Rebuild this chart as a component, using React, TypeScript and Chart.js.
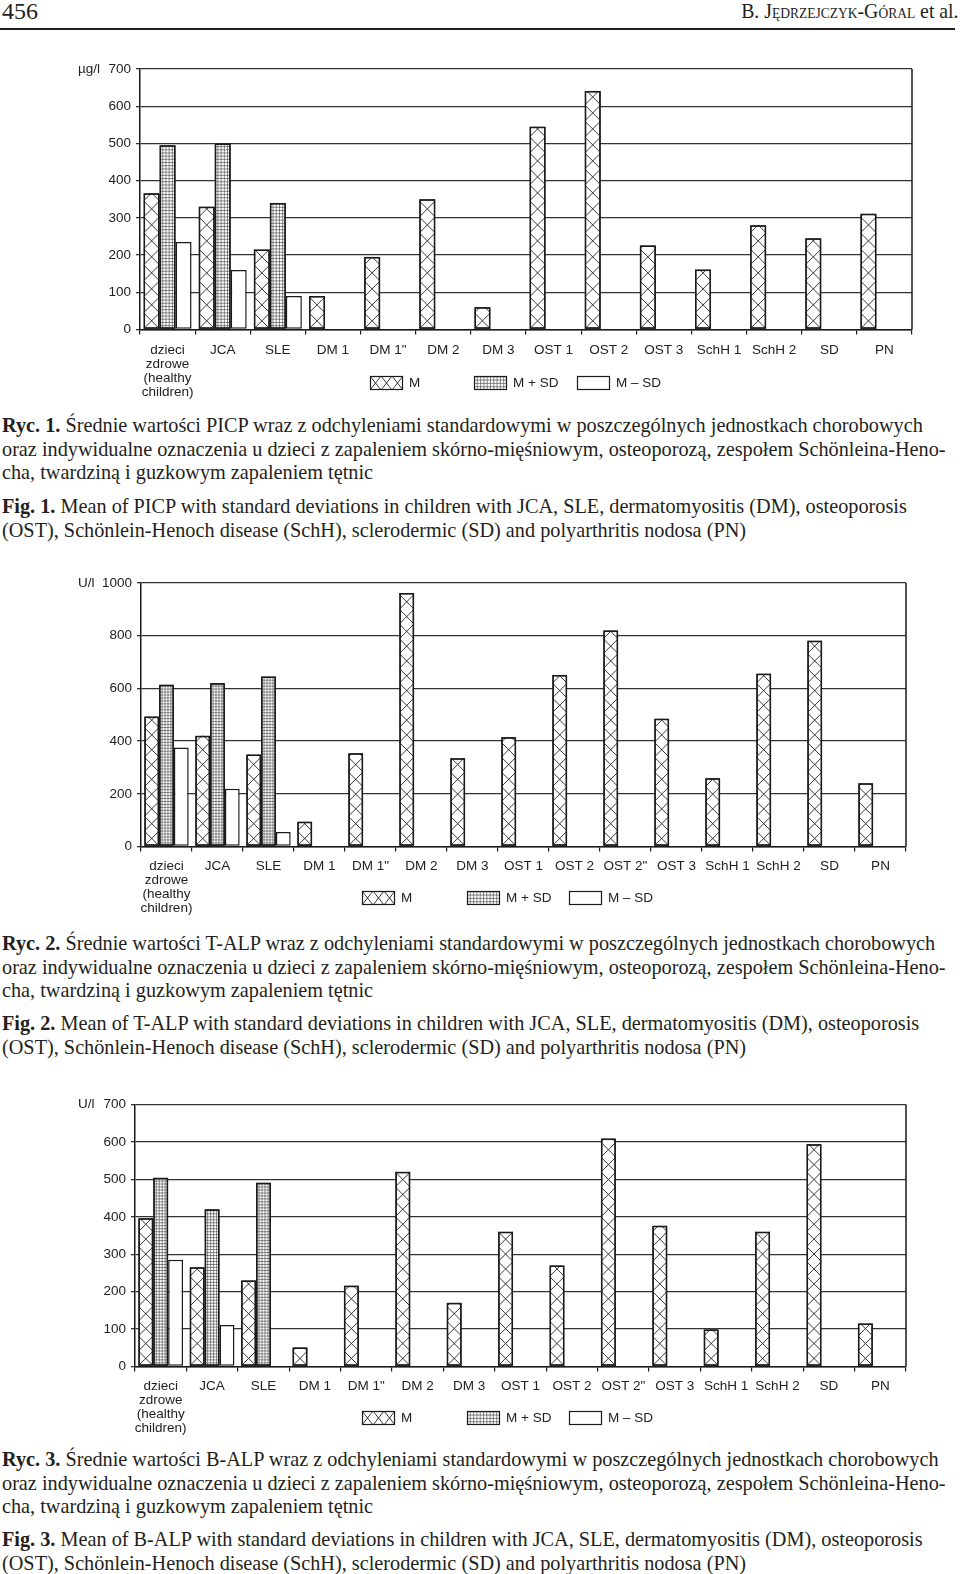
import React, { useEffect, useRef } from "react";
import { Chart, registerables } from "chart.js";
Chart.register(...registerables);

// ---------- data ----------
const categoriesPICP: (string | string[])[] = [
  ["dzieci", "zdrowe", "(healthy", "children)"],
  "JCA", "SLE", "DM 1", 'DM 1"', "DM 2", "DM 3", "OST 1", "OST 2", "OST 3", "SchH 1", "SchH 2", "SD", "PN",
];
const categoriesALP: (string | string[])[] = [
  ["dzieci", "zdrowe", "(healthy", "children)"],
  "JCA", "SLE", "DM 1", 'DM 1"', "DM 2", "DM 3", "OST 1", "OST 2", 'OST 2"', "OST 3", "SchH 1", "SchH 2", "SD", "PN",
];

const picpMean = [366, 330, 215, 90, 195, 350, 60, 545, 641, 226, 161, 280, 245, 311];
const picpPlusSD = [495, 500, 340, null, null, null, null, null, null, null, null, null, null, null];
const picpMinusSD = [235, 160, 90, null, null, null, null, null, null, null, null, null, null, null];

const talpMean = [493, 420, 349, 94, 354, 962, 335, 415, 651, 820, 485, 259, 656, 781, 240];
const talpPlusSD = [614, 620, 645, null, null, null, null, null, null, null, null, null, null, null, null];
const talpMinusSD = [376, 219, 55, null, null, null, null, null, null, null, null, null, null, null, null];

const balpMean = [396, 265, 230, 51, 216, 520, 170, 360, 270, 609, 376, 99, 360, 594, 115];
const balpPlusSD = [504, 420, 491, null, null, null, null, null, null, null, null, null, null, null, null];
const balpMinusSD = [285, 111, null, null, null, null, null, null, null, null, null, null, null, null, null];

const legendLabels = ["M", "M + SD", "M – SD"];
const unitPICP = "µg/l";
const unitALP = "U/l";
const yTicksPICP = { max: 700, step: 100 };
const yTicksTALP = { max: 1000, step: 200 };
const yTicksBALP = { max: 700, step: 100 };

const rycLine2 = "oraz indywidualne oznaczenia u dzieci z zapaleniem skórno-mięśniowym, osteoporozą, zespołem Schönleina-Heno-";
const rycLine3 = "cha, twardziną i guzkowym zapaleniem tętnic";
const figLine2 = "(OST), Schönlein-Henoch disease (SchH), sclerodermic (SD) and polyarthritis nodosa (PN)";
const rycLabels = ["Ryc. 1.", "Ryc. 2.", "Ryc. 3."];
const figLabels = ["Fig. 1.", "Fig. 2.", "Fig. 3."];
const rycLine1 = [
  " Średnie wartości PICP wraz z odchyleniami standardowymi w poszczególnych jednostkach chorobowych",
  " Średnie wartości T-ALP wraz z odchyleniami standardowymi w poszczególnych jednostkach chorobowych",
  " Średnie wartości B-ALP wraz z odchyleniami standardowymi w poszczególnych jednostkach chorobowych",
];
const figLine1 = [
  " Mean of PICP with standard deviations in children with JCA, SLE, dermatomyositis (DM), osteoporosis",
  " Mean of T-ALP with standard deviations in children with JCA, SLE, dermatomyositis (DM), osteoporosis",
  " Mean of B-ALP with standard deviations in children with JCA, SLE, dermatomyositis (DM), osteoporosis",
];

// ---------- drawing helpers ----------
const SANS = "'Liberation Sans', Arial, Helvetica, sans-serif";
const SERIF = "'Liberation Serif', 'Times New Roman', Times, serif";
const INK = "#1a1a1a";

function drawCross(ctx: CanvasRenderingContext2D, left: number, top: number, right: number, bottom: number, tw: number, th: number) {
  ctx.save();
  ctx.beginPath();
  ctx.rect(left, top, right - left, bottom - top);
  ctx.clip();
  ctx.strokeStyle = "#222";
  ctx.lineWidth = 0.9;
  ctx.beginPath();
  for (let x0 = left; x0 < right; x0 += tw) {
    for (let yb = bottom; yb > top - th; yb -= th) {
      ctx.moveTo(x0, yb);
      ctx.lineTo(x0 + tw, yb - th);
      ctx.moveTo(x0 + tw, yb);
      ctx.lineTo(x0, yb - th);
    }
  }
  ctx.stroke();
  ctx.restore();
}

function drawGrid(ctx: CanvasRenderingContext2D, left: number, top: number, right: number, bottom: number, pitch: number) {
  ctx.save();
  ctx.beginPath();
  ctx.rect(left, top, right - left, bottom - top);
  ctx.clip();
  ctx.strokeStyle = "#4a4a4a";
  ctx.lineWidth = 0.65;
  ctx.beginPath();
  for (let x = left + pitch; x < right - 0.5; x += pitch) {
    ctx.moveTo(x, top);
    ctx.lineTo(x, bottom);
  }
  for (let y = bottom - pitch; y > top; y -= pitch) {
    ctx.moveTo(left, y);
    ctx.lineTo(right, y);
  }
  ctx.stroke();
  ctx.restore();
}

type ChartCfg = {
  top: number;
  height: number;
  padTop: number;
  padLeft: number;
  padRight: number;
  xHeight: number;
  labelPad: number;
  legendOffset: number;
  categories: (string | string[])[];
  mean: (number | null)[];
  plus: (number | null)[];
  minus: (number | null)[];
  yMax: number;
  yStep: number;
  unit: string;
  legendX: number[];
};

function BarChart({ cfg }: { cfg: ChartCfg }) {
  const ref = useRef<HTMLCanvasElement>(null);
  useEffect(() => {
    const patternPlugin = {
      id: "patterns",
      afterDatasetsDraw(chart: any) {
        const ctx: CanvasRenderingContext2D = chart.ctx;
        [0, 1].forEach((di) => {
          const meta = chart.getDatasetMeta(di);
          meta.data.forEach((bar: any, i: number) => {
            const v = chart.data.datasets[di].data[i];
            if (v == null) return;
            const p = bar.getProps(["x", "y", "base", "width"], true);
            const l = p.x - p.width / 2;
            const r = p.x + p.width / 2;
            if (di === 0) drawCross(ctx, l, p.y, r, p.base, p.width, p.width);
            else drawGrid(ctx, l, p.y, r, p.base, p.width / 5);
            ctx.save();
            ctx.strokeStyle = INK;
            ctx.lineWidth = 1.5;
            ctx.strokeRect(l + 0.75, p.y + 0.75, p.width - 1.5, p.base - p.y - 1.5);
            ctx.restore();
          });
        });
      },
      afterDraw(chart: any) {
        const ctx: CanvasRenderingContext2D = chart.ctx;
        const a = chart.chartArea;
        ctx.save();
        ctx.strokeStyle = INK;
        ctx.lineWidth = 1.5;
        ctx.beginPath();
        ctx.moveTo(a.right, a.top);
        ctx.lineTo(a.right, a.bottom);
        ctx.stroke();
        ctx.fillStyle = "#222";
        ctx.font = `13.5px ${SANS}`;
        ctx.textBaseline = "middle";
        ctx.textAlign = "left";
        ctx.fillText(cfg.unit, 78, chart.scales.y.getPixelForValue(cfg.yMax));
        const ly = a.bottom + cfg.legendOffset;
        const sw = 33;
        const sh = 14;
        cfg.legendX.forEach((lx, k) => {
          ctx.fillStyle = "#fff";
          ctx.fillRect(lx, ly, sw, sh);
          if (k === 0) drawCross(ctx, lx, ly, lx + sw, ly + sh, 11, 14);
          if (k === 1) drawGrid(ctx, lx, ly, lx + sw, ly + sh, 3.3);
          ctx.strokeStyle = INK;
          ctx.lineWidth = 1.2;
          ctx.strokeRect(lx + 0.5, ly + 0.5, sw - 1, sh - 1);
          ctx.fillStyle = "#222";
          ctx.font = `13.5px ${SANS}`;
          ctx.textBaseline = "middle";
          ctx.fillText(legendLabels[k], lx + sw + 6, ly + sh / 2 + 0.5);
        });
        ctx.restore();
      },
    };

    const ds = (data: (number | null)[], label: string) => ({
      label,
      data,
      backgroundColor: "#ffffff",
      borderColor: INK,
      borderWidth: 1.5,
      borderSkipped: false as const,
      categoryPercentage: 0.87,
      barPercentage: 1.0,
    });

    const chart = new Chart(ref.current!, {
      type: "bar",
      data: {
        labels: cfg.categories as any,
        datasets: [ds(cfg.mean, legendLabels[0]), ds(cfg.plus, legendLabels[1]), ds(cfg.minus, legendLabels[2])],
      },
      options: {
        animation: false,
        responsive: false,
        events: [],
        layout: { padding: { top: cfg.padTop, left: cfg.padLeft, right: cfg.padRight, bottom: 0 } },
        plugins: { legend: { display: false }, tooltip: { enabled: false } },
        scales: {
          x: {
            grid: { display: true, drawOnChartArea: false, drawTicks: true, tickLength: 5, color: INK, lineWidth: 1.2, offset: true },
            border: { display: true, color: INK, width: 1.5 },
            ticks: {
              color: "#222",
              font: { family: SANS, size: 13.5, lineHeight: 1.04 },
              padding: cfg.labelPad,
              autoSkip: false,
              maxRotation: 0,
              minRotation: 0,
            },
            afterFit: (s: any) => {
              s.height = cfg.xHeight;
            },
          },
          y: {
            min: 0,
            max: cfg.yMax,
            ticks: {
              stepSize: cfg.yStep,
              color: "#222",
              font: { family: SANS, size: 13.5 },
              padding: 5,
              callback: (v: any) => String(v),
            },
            grid: { color: "#333", lineWidth: 1.3, tickLength: 4 },
            border: { display: true, color: INK, width: 1.5 },
            afterFit: (s: any) => {
              s.width = 60;
            },
          },
        },
      },
      plugins: [patternPlugin],
    });
    return () => chart.destroy();
  }, []);
  return (
    <div style={{ position: "absolute", left: 0, top: cfg.top, width: 960, height: cfg.height }}>
      <canvas ref={ref} width={960} height={cfg.height} style={{ display: "block", width: 960, height: cfg.height }} />
    </div>
  );
}

function Caption({ top, label, lines }: { top: number; label: string; lines: string[] }) {
  return (
    <div style={{ position: "absolute", left: 2, top, fontFamily: SERIF, fontSize: 20.25, lineHeight: "23.5px", color: "#231f20", whiteSpace: "pre" }}>
      {lines.map((ln, i) => (
        <div key={i}>
          {i === 0 ? <b>{label}</b> : null}
          {ln}
        </div>
      ))}
    </div>
  );
}

export default function App() {
  const charts: ChartCfg[] = [
    {
      top: 41, height: 370, padTop: 28, padLeft: 80, padRight: 48, xHeight: 81.5, labelPad: 9, legendOffset: 46.5,
      categories: categoriesPICP, mean: picpMean, plus: picpPlusSD, minus: picpMinusSD,
      yMax: yTicksPICP.max, yStep: yTicksPICP.step, unit: unitPICP, legendX: [370, 474, 577],
    },
    {
      top: 555, height: 370, padTop: 28, padLeft: 81, padRight: 54, xHeight: 78.5, labelPad: 8, legendOffset: 44.5,
      categories: categoriesALP, mean: talpMean, plus: talpPlusSD, minus: talpMinusSD,
      yMax: yTicksTALP.max, yStep: yTicksTALP.step, unit: unitALP, legendX: [362, 467, 569],
    },
    {
      top: 1080, height: 365, padTop: 24.5, padLeft: 75, padRight: 54, xHeight: 78.5, labelPad: 8, legendOffset: 44.5,
      categories: categoriesALP, mean: balpMean, plus: balpPlusSD, minus: balpMinusSD,
      yMax: yTicksBALP.max, yStep: yTicksBALP.step, unit: unitALP, legendX: [362, 467, 569],
    },
  ];
  const rycTops = [414, 932, 1448];
  const figTops = [495, 1012, 1528];
  return (
    <div style={{ position: "absolute", left: 0, top: 0, width: 960, height: 1574, background: "#fff", overflow: "hidden" }}>
      <div style={{ position: "absolute", left: 2, top: -2, fontFamily: SERIF, fontSize: 24, lineHeight: "26px", color: "#231f20" }}>456</div>
      <div
        style={{
          position: "absolute", right: 1, top: -2, fontFamily: SERIF, fontSize: 22, lineHeight: "26px", color: "#231f20",
          whiteSpace: "pre", transform: "scaleX(0.9)", transformOrigin: "right center",
        }}
      >
        B. J<span style={{ fontVariant: "small-caps" }}>ędrzejczyk</span>-G<span style={{ fontVariant: "small-caps" }}>óral</span> et al.
      </div>
      <div style={{ position: "absolute", left: 0, top: 28, width: 955, height: 2, background: "#231f20" }} />
      {charts.map((c, i) => (
        <BarChart key={i} cfg={c} />
      ))}
      {rycTops.map((t, i) => (
        <Caption key={"r" + i} top={t} label={rycLabels[i]} lines={[rycLine1[i], rycLine2, rycLine3]} />
      ))}
      {figTops.map((t, i) => (
        <Caption key={"f" + i} top={t} label={figLabels[i]} lines={[figLine1[i], figLine2]} />
      ))}
    </div>
  );
}
